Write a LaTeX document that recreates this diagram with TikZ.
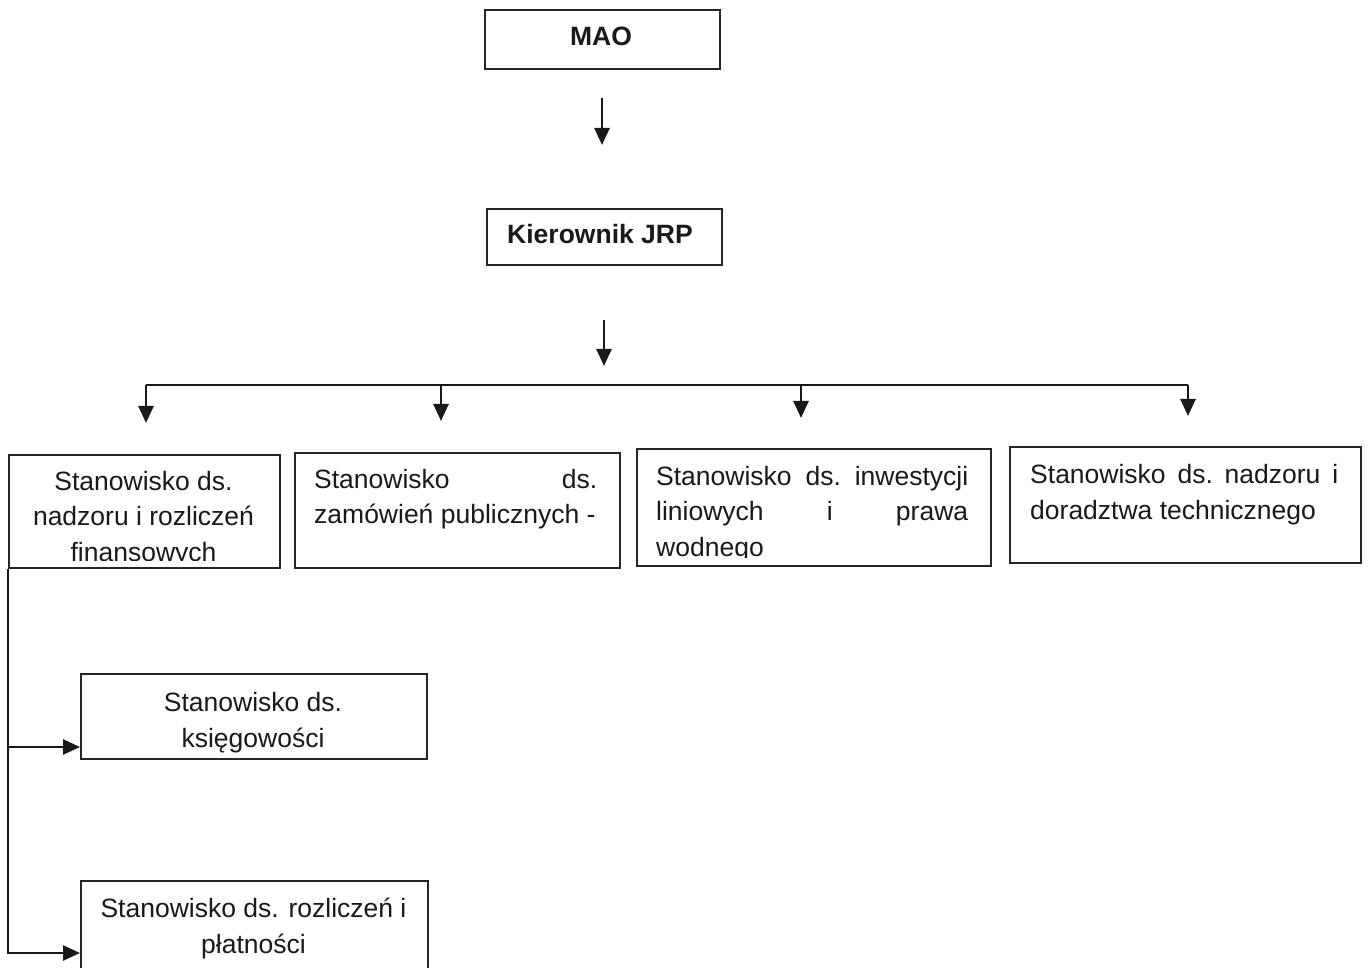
\documentclass[tikz,border=0pt]{standalone}
\usepackage{fontspec}
\setmainfont{Liberation Sans}
\usetikzlibrary{arrows.meta,calc}
\newcommand{\jline}[2]{\hbox to #1{#2}}
\begin{document}
\begin{tikzpicture}[x=1pt,y=-1pt,
  box/.style={draw=black!85, line width=2pt, inner sep=0pt, anchor=north west},
  txt/.style={inner sep=0pt, font=\fontsize{26.5}{35.5}\selectfont, text=black!90},
  bold/.style={txt, font=\fontsize{26.5}{35.5}\selectfont\bfseries},
  conn/.style={line width=2.6pt, draw=black!90},
  arr/.style={conn, -{Triangle[length=17pt,width=15pt]}}]
\useasboundingbox (0,0) rectangle (1369,968);
\clip (0,0) rectangle (1369,968);
% boxes
\node[box, minimum width=235pt, minimum height=59pt] (mao) at (484,9) {};
\node[box, minimum width=235pt, minimum height=56pt] (kjrp) at (486,208) {};
\node[box, minimum width=271pt, minimum height=113pt] (b1) at (8,454) {};
\node[box, minimum width=325pt, minimum height=115pt] (b2) at (294,452) {};
\node[box, minimum width=354pt, minimum height=117pt] (b3) at (636,448) {};
\node[box, minimum width=351pt, minimum height=116pt] (b4) at (1009,446) {};
\node[box, minimum width=346pt, minimum height=85pt] (b5) at (80,673) {};
\node[box, minimum width=347pt, minimum height=100pt] (b6) at (80,880) {};
% texts
\node[bold, anchor=base] (maot) at (601,46) {MAO};
\node[bold, anchor=base] (kjrpt) at (600,244) {Kierownik JRP};
\begin{scope}
\clip (b1.north west) rectangle ([yshift=9pt]b1.south east);
\node[txt, anchor=north, align=center] (t1) at (143.5,471) {Stanowisko ds.\\nadzoru i rozliczeń\\finansowych};
\end{scope}
\node[txt, anchor=north west, align=left] (t2) at (314,469) {\jline{283pt}{Stanowisko\hfil ds.}\\zamówień publicznych -};
\begin{scope}
\clip (b3.north west) rectangle ([yshift=10pt]b3.south east);
\node[txt, anchor=north west, align=left] (t3) at (656,466) {\jline{312pt}{Stanowisko\hfil ds.\hfil inwestycji}\\\jline{312pt}{liniowych\hfil i\hfil prawa}\\wodnego};
\end{scope}
\node[txt, anchor=north west, align=left] (t4) at (1030,464.5) {\jline{308pt}{Stanowisko\hfil ds.\hfil nadzoru\hfil i}\\doradztwa technicznego};
\node[txt, anchor=north, align=center] (t5) at (253,692.5) {Stanowisko ds.\\księgowości};
\node[txt, anchor=north, align=center] (t6) at (253.5,898) {Stanowisko ds. rozliczeń i\\płatności};
% free arrows between levels
\coordinate (a1s) at (602,98);
\coordinate (a1e) at (602,145);
\coordinate (a2s) at (604,320);
\coordinate (a2e) at (604,366);
\draw[arr] (a1s) -- (a1e);
\draw[arr] (a2s) -- (a2e);
% bus
\coordinate (busL) at (146,385);
\coordinate (busR) at (1188,385);
\coordinate (d1) at (146,423);
\coordinate (d2) at (441,421);
\coordinate (d3) at (801,418);
\coordinate (d4) at (1188,416);
\draw[conn] (busL) -- (busR);
\draw[arr] (busL) -- (d1);
\draw[arr] (d2 |- busL) -- (d2);
\draw[arr] (d3 |- busL) -- (d3);
\draw[arr] (busR) -- (d4);
% left trunk
\coordinate (e5) at ([yshift=13pt]b5.south west);
\coordinate (e6) at ([yshift=-73pt]b6.north west);
\draw[arr] (b1.south west) |- (e6);
\draw[arr] (b1.south west |- e5) -- (e5);
\end{tikzpicture}
\end{document}
